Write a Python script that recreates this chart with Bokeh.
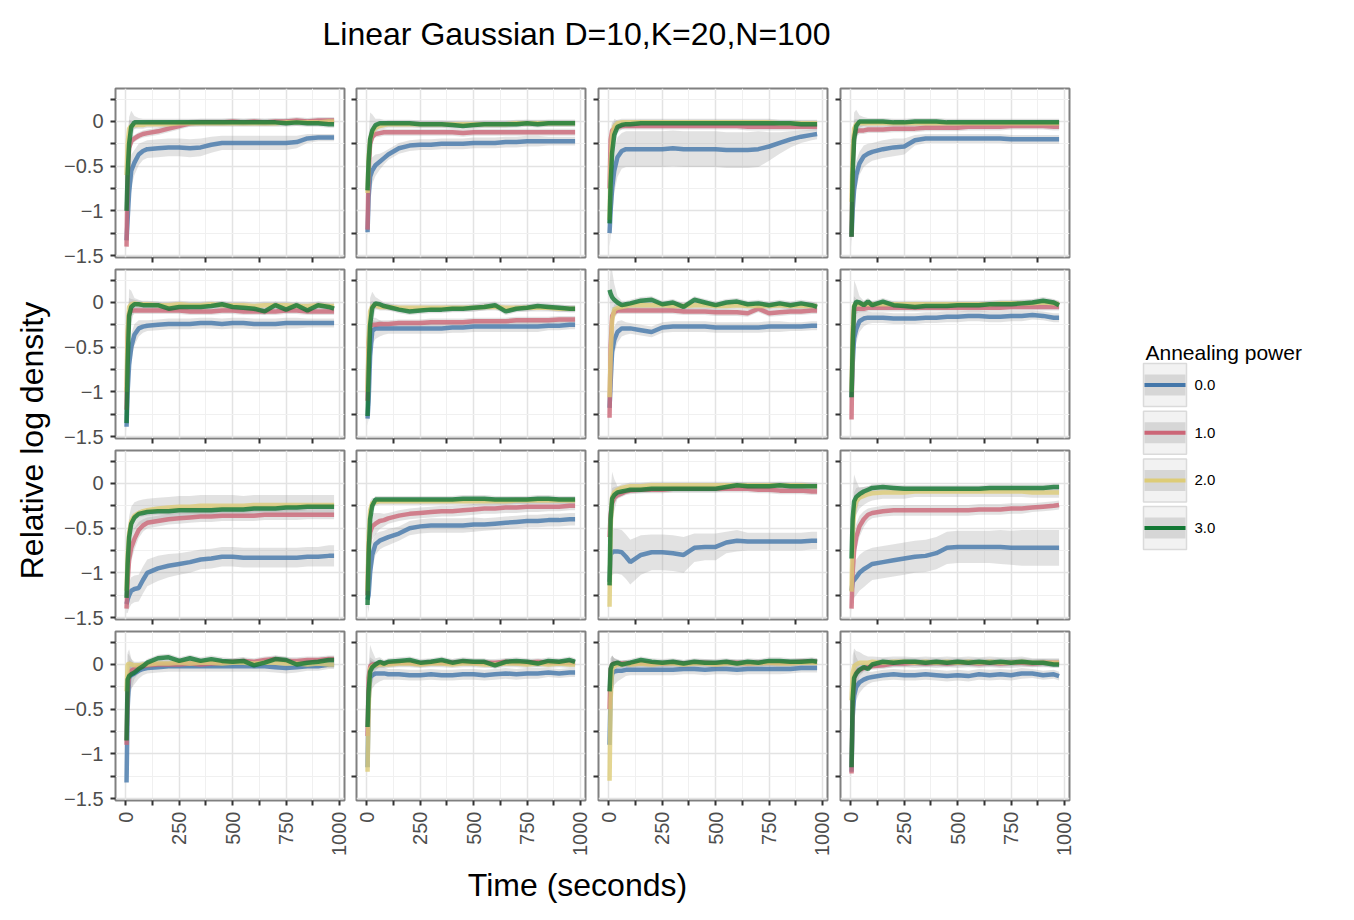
import math
import numpy as np
from bokeh.plotting import figure
from bokeh.models import Range1d, FixedTicker, CustomJSTickFormatter
from bokeh.layouts import row, column
from bokeh.embed import file_html
from bokeh.resources import INLINE
from bokeh.core.properties import value

FONT = "Liberation Sans"
TITLE = "Linear Gaussian D=10,K=20,N=100"
X_LABEL = "Time (seconds)"
Y_LABEL = "Relative log density"
LEGEND_TITLE = "Annealing power"
POWERS = ["0.0", "1.0", "2.0", "3.0"]
COLORS = ["#4477AA", "#CC6677", "#DDCC77", "#117733"]

X_TICKS = [0, 250, 500, 750, 1000]
X_MINOR = [125, 375, 625, 875]
Y_TICKS = [0, -0.5, -1, -1.5]
Y_MINOR = [0.25, -0.25, -0.75, -1.25]
X_RANGE = (-48.75, 1023.75)
Y_RANGE = (-1.522, 0.369)

# time samples (seconds)
T = [3, 8, 15, 25, 40, 60, 80, 100, 150, 200, 250, 300, 350, 400, 450, 500,
     550, 600, 650, 700, 750, 800, 850, 900, 950, 975]

# ---- mean relative log density, per panel (row, col) and annealing power ----
B11 = [-1.33, -1.10, -0.80, -0.55, -0.46, -0.37, -0.33, -0.31, -0.30, -0.29, -0.29, -0.30, -0.29, -0.26, -0.24, -0.24, -0.24, -0.24, -0.24, -0.24, -0.24, -0.23, -0.19, -0.18, -0.18, -0.18]
R11 = [-1.40, -0.60, -0.30, -0.22, -0.19, -0.16, -0.14, -0.13, -0.11, -0.08, -0.05, -0.02, -0.01, -0.01, -0.01, 0.00, -0.01, 0.00, -0.01, 0.00, 0.00, 0.01, 0.00, 0.01, 0.01, 0.01]
Y11 = [-0.60, -0.25, -0.08, -0.05, -0.04, -0.04, -0.04, -0.03, -0.03, -0.03, -0.02, -0.02, -0.02, -0.02, -0.02, -0.02, -0.02, -0.02, -0.02, -0.02, -0.01, -0.01, -0.01, -0.01, 0.00, 0.00]
G11 = [-1.00, -0.60, -0.25, -0.06, -0.01, -0.01, -0.01, -0.01, -0.01, -0.01, -0.01, -0.01, -0.01, -0.01, -0.01, -0.01, -0.01, -0.01, -0.01, -0.01, -0.02, -0.01, -0.02, -0.02, -0.03, -0.03]

B12 = [-1.24, -0.85, -0.62, -0.55, -0.49, -0.45, -0.41, -0.37, -0.30, -0.27, -0.26, -0.26, -0.25, -0.25, -0.25, -0.24, -0.24, -0.24, -0.23, -0.23, -0.22, -0.22, -0.22, -0.22, -0.22, -0.22]
R12 = [-1.21, -0.55, -0.25, -0.17, -0.14, -0.13, -0.12, -0.12, -0.12, -0.12, -0.12, -0.12, -0.12, -0.12, -0.13, -0.12, -0.12, -0.12, -0.12, -0.12, -0.12, -0.12, -0.12, -0.12, -0.12, -0.12]
Y12 = [-0.80, -0.40, -0.20, -0.12, -0.07, -0.05, -0.04, -0.03, -0.03, -0.03, -0.03, -0.03, -0.03, -0.03, -0.03, -0.03, -0.03, -0.03, -0.03, -0.02, -0.02, -0.02, -0.02, -0.02, -0.02, -0.02]
G12 = [-0.77, -0.45, -0.20, -0.10, -0.04, -0.02, -0.02, -0.02, -0.02, -0.02, -0.03, -0.03, -0.03, -0.04, -0.05, -0.04, -0.03, -0.03, -0.03, -0.03, -0.02, -0.03, -0.02, -0.02, -0.02, -0.02]

B13 = [-1.25, -1.00, -0.75, -0.55, -0.40, -0.33, -0.31, -0.31, -0.31, -0.31, -0.31, -0.30, -0.31, -0.31, -0.31, -0.31, -0.32, -0.32, -0.32, -0.31, -0.28, -0.24, -0.20, -0.17, -0.15, -0.14]
R13 = [-0.75, -0.20, -0.10, -0.08, -0.06, -0.05, -0.05, -0.05, -0.05, -0.05, -0.05, -0.05, -0.05, -0.05, -0.05, -0.05, -0.05, -0.05, -0.06, -0.06, -0.06, -0.06, -0.06, -0.06, -0.06, -0.06]
Y13 = [-1.10, -0.50, -0.15, -0.06, -0.02, -0.01, -0.01, -0.01, -0.01, -0.01, -0.01, -0.01, -0.01, -0.01, -0.01, -0.01, -0.01, -0.01, -0.01, -0.01, -0.01, -0.02, -0.02, -0.02, -0.02, -0.02]
G13 = [-1.14, -0.70, -0.35, -0.15, -0.06, -0.04, -0.03, -0.03, -0.02, -0.02, -0.02, -0.02, -0.02, -0.02, -0.02, -0.02, -0.02, -0.02, -0.02, -0.02, -0.02, -0.02, -0.02, -0.03, -0.03, -0.03]

B14 = [-1.29, -1.00, -0.76, -0.60, -0.47, -0.39, -0.36, -0.34, -0.31, -0.29, -0.28, -0.21, -0.19, -0.19, -0.19, -0.19, -0.19, -0.19, -0.19, -0.19, -0.20, -0.20, -0.20, -0.20, -0.20, -0.20]
R14 = [-1.29, -0.50, -0.15, -0.11, -0.10, -0.10, -0.09, -0.09, -0.09, -0.08, -0.08, -0.08, -0.07, -0.07, -0.07, -0.07, -0.06, -0.06, -0.06, -0.06, -0.05, -0.05, -0.05, -0.05, -0.06, -0.06]
Y14 = [-0.90, -0.35, -0.08, -0.03, -0.02, -0.02, -0.02, -0.02, -0.02, -0.02, -0.02, -0.02, -0.02, -0.02, -0.02, -0.02, -0.02, -0.02, -0.02, -0.02, -0.02, -0.02, -0.02, -0.02, -0.02, -0.02]
G14 = [-1.29, -0.60, -0.20, -0.05, 0.00, 0.00, 0.00, 0.00, 0.00, -0.01, -0.01, 0.00, 0.00, 0.00, -0.01, -0.01, -0.01, -0.01, -0.01, -0.01, -0.01, -0.01, -0.01, -0.01, -0.01, -0.01]

B21 = [-1.39, -1.00, -0.70, -0.50, -0.36, -0.29, -0.27, -0.26, -0.25, -0.24, -0.24, -0.24, -0.23, -0.23, -0.24, -0.23, -0.23, -0.24, -0.24, -0.24, -0.23, -0.23, -0.23, -0.23, -0.23, -0.23]
R21 = [-1.20, -0.40, -0.12, -0.09, -0.09, -0.09, -0.09, -0.09, -0.09, -0.09, -0.09, -0.10, -0.10, -0.10, -0.09, -0.09, -0.10, -0.10, -0.10, -0.10, -0.09, -0.09, -0.10, -0.10, -0.10, -0.10]
Y21 = [-1.00, -0.30, -0.05, -0.02, -0.01, -0.02, -0.02, -0.02, -0.03, -0.03, -0.02, -0.03, -0.03, -0.02, -0.03, -0.03, -0.03, -0.04, -0.03, -0.03, -0.03, -0.04, -0.04, -0.03, -0.04, -0.04]
G21 = [-1.35, -0.70, -0.15, -0.05, -0.02, -0.02, -0.03, -0.03, -0.03, -0.07, -0.05, -0.05, -0.05, -0.04, -0.02, -0.05, -0.06, -0.07, -0.10, -0.03, -0.08, -0.03, -0.09, -0.03, -0.05, -0.07]

B22 = [-1.30, -1.10, -0.60, -0.32, -0.29, -0.29, -0.29, -0.29, -0.29, -0.29, -0.29, -0.29, -0.29, -0.28, -0.28, -0.27, -0.27, -0.27, -0.27, -0.27, -0.27, -0.27, -0.26, -0.26, -0.25, -0.25]
R22 = [-1.10, -0.45, -0.27, -0.25, -0.25, -0.24, -0.24, -0.24, -0.23, -0.23, -0.23, -0.22, -0.22, -0.22, -0.22, -0.21, -0.21, -0.21, -0.21, -0.20, -0.20, -0.20, -0.20, -0.19, -0.19, -0.19]
Y22 = [-1.00, -0.40, -0.10, -0.04, -0.03, -0.05, -0.05, -0.05, -0.06, -0.06, -0.06, -0.06, -0.06, -0.06, -0.06, -0.06, -0.05, -0.05, -0.06, -0.06, -0.06, -0.06, -0.06, -0.07, -0.07, -0.07]
G22 = [-1.27, -0.80, -0.25, -0.06, -0.01, -0.02, -0.04, -0.05, -0.08, -0.10, -0.09, -0.08, -0.08, -0.07, -0.07, -0.06, -0.05, -0.03, -0.10, -0.07, -0.06, -0.04, -0.05, -0.06, -0.07, -0.07]

B23 = [-1.18, -0.90, -0.55, -0.42, -0.33, -0.29, -0.29, -0.29, -0.31, -0.33, -0.28, -0.27, -0.27, -0.27, -0.27, -0.28, -0.28, -0.28, -0.28, -0.28, -0.27, -0.27, -0.27, -0.27, -0.26, -0.26]
R23 = [-1.29, -0.50, -0.15, -0.11, -0.09, -0.09, -0.09, -0.09, -0.09, -0.09, -0.09, -0.09, -0.10, -0.10, -0.10, -0.11, -0.11, -0.11, -0.12, -0.07, -0.12, -0.11, -0.10, -0.10, -0.09, -0.09]
Y23 = [-1.06, -0.60, -0.20, -0.08, -0.06, -0.05, -0.04, -0.03, -0.03, -0.03, -0.03, -0.04, -0.04, -0.03, -0.03, -0.04, -0.04, -0.03, -0.04, -0.04, -0.04, -0.03, -0.04, -0.04, -0.04, -0.04]
G23 = [0.14, 0.10, 0.06, 0.03, 0.00, -0.03, -0.02, -0.01, 0.02, 0.03, -0.02, 0.00, -0.05, 0.03, 0.00, -0.03, 0.00, 0.01, -0.02, -0.01, -0.03, -0.01, -0.03, -0.01, -0.03, -0.05]

B24 = [-1.06, -0.70, -0.40, -0.30, -0.21, -0.18, -0.17, -0.17, -0.17, -0.18, -0.18, -0.18, -0.17, -0.17, -0.16, -0.16, -0.15, -0.15, -0.16, -0.16, -0.15, -0.15, -0.14, -0.15, -0.17, -0.17]
R24 = [-1.31, -0.40, -0.08, -0.07, -0.07, -0.07, -0.06, -0.06, -0.06, -0.06, -0.06, -0.06, -0.06, -0.06, -0.06, -0.06, -0.06, -0.06, -0.06, -0.06, -0.05, -0.05, -0.05, -0.05, -0.05, -0.05]
Y24 = [-1.00, -0.30, -0.03, -0.02, -0.02, -0.02, -0.02, -0.02, -0.02, -0.02, -0.02, -0.02, -0.02, -0.02, -0.02, -0.02, -0.02, -0.02, -0.02, -0.01, -0.01, -0.01, -0.01, 0.00, -0.01, -0.02]
G24 = [-1.06, -0.50, -0.05, 0.01, 0.00, -0.03, 0.01, -0.03, 0.01, -0.03, -0.04, -0.05, -0.04, -0.04, -0.04, -0.03, -0.03, -0.03, -0.02, -0.02, -0.02, -0.01, 0.00, 0.02, 0.00, -0.03]

B31 = [-1.35, -1.30, -1.25, -1.20, -1.18, -1.17, -1.08, -1.00, -0.95, -0.92, -0.90, -0.88, -0.85, -0.84, -0.82, -0.82, -0.83, -0.83, -0.83, -0.83, -0.83, -0.83, -0.82, -0.82, -0.81, -0.81]
R31 = [-1.40, -1.10, -0.85, -0.72, -0.62, -0.52, -0.47, -0.44, -0.42, -0.40, -0.39, -0.38, -0.37, -0.37, -0.36, -0.36, -0.36, -0.36, -0.35, -0.35, -0.35, -0.35, -0.35, -0.35, -0.35, -0.35]
Y31 = [-1.20, -0.80, -0.55, -0.42, -0.36, -0.33, -0.31, -0.30, -0.28, -0.27, -0.26, -0.26, -0.25, -0.25, -0.25, -0.25, -0.25, -0.24, -0.24, -0.24, -0.24, -0.24, -0.24, -0.24, -0.24, -0.24]
G31 = [-1.28, -0.90, -0.60, -0.45, -0.38, -0.34, -0.33, -0.32, -0.31, -0.31, -0.30, -0.30, -0.30, -0.30, -0.29, -0.29, -0.29, -0.28, -0.28, -0.28, -0.27, -0.27, -0.26, -0.26, -0.26, -0.26]

B32 = [-1.30, -1.25, -1.00, -0.80, -0.68, -0.64, -0.62, -0.60, -0.56, -0.50, -0.48, -0.47, -0.47, -0.47, -0.47, -0.46, -0.46, -0.45, -0.44, -0.43, -0.42, -0.42, -0.41, -0.41, -0.40, -0.40]
R32 = [-1.25, -0.70, -0.55, -0.48, -0.45, -0.42, -0.41, -0.39, -0.36, -0.34, -0.33, -0.32, -0.31, -0.31, -0.30, -0.29, -0.28, -0.28, -0.27, -0.27, -0.26, -0.26, -0.26, -0.26, -0.25, -0.25]
Y32 = [-1.20, -0.60, -0.30, -0.22, -0.21, -0.20, -0.20, -0.20, -0.20, -0.20, -0.20, -0.20, -0.20, -0.20, -0.20, -0.20, -0.20, -0.20, -0.20, -0.19, -0.19, -0.19, -0.19, -0.19, -0.19, -0.19]
G32 = [-1.36, -0.80, -0.40, -0.25, -0.18, -0.18, -0.18, -0.18, -0.18, -0.18, -0.18, -0.18, -0.18, -0.18, -0.17, -0.17, -0.17, -0.18, -0.18, -0.18, -0.18, -0.17, -0.17, -0.18, -0.18, -0.18]

B33 = [-1.10, -0.80, -0.77, -0.76, -0.76, -0.77, -0.82, -0.88, -0.80, -0.77, -0.77, -0.78, -0.80, -0.72, -0.71, -0.71, -0.66, -0.64, -0.65, -0.65, -0.65, -0.65, -0.65, -0.65, -0.64, -0.64]
R33 = [-0.60, -0.35, -0.22, -0.16, -0.13, -0.11, -0.09, -0.08, -0.07, -0.07, -0.07, -0.06, -0.06, -0.06, -0.06, -0.06, -0.06, -0.06, -0.06, -0.07, -0.07, -0.08, -0.08, -0.08, -0.09, -0.09]
Y33 = [-1.38, -0.50, -0.15, -0.10, -0.07, -0.05, -0.04, -0.03, -0.03, -0.02, -0.02, -0.02, -0.02, -0.02, -0.02, -0.02, -0.02, -0.02, -0.02, -0.02, -0.02, -0.02, -0.02, -0.02, -0.03, -0.03]
G33 = [-1.14, -0.40, -0.17, -0.13, -0.10, -0.09, -0.08, -0.07, -0.07, -0.06, -0.06, -0.06, -0.06, -0.06, -0.06, -0.06, -0.04, -0.02, -0.03, -0.03, -0.03, -0.02, -0.03, -0.03, -0.03, -0.03]

B34 = [-1.20, -1.10, -1.08, -1.05, -1.00, -0.96, -0.93, -0.90, -0.88, -0.86, -0.84, -0.82, -0.81, -0.78, -0.72, -0.71, -0.71, -0.71, -0.71, -0.71, -0.72, -0.72, -0.72, -0.72, -0.72, -0.72]
R34 = [-1.40, -1.00, -0.75, -0.60, -0.48, -0.40, -0.35, -0.33, -0.31, -0.30, -0.30, -0.30, -0.30, -0.30, -0.30, -0.30, -0.30, -0.29, -0.29, -0.29, -0.28, -0.28, -0.27, -0.26, -0.25, -0.24]
Y34 = [-1.21, -0.60, -0.30, -0.20, -0.16, -0.14, -0.12, -0.11, -0.10, -0.10, -0.10, -0.09, -0.09, -0.09, -0.09, -0.09, -0.09, -0.09, -0.09, -0.09, -0.09, -0.09, -0.10, -0.10, -0.10, -0.10]
G34 = [-0.84, -0.40, -0.20, -0.15, -0.12, -0.09, -0.07, -0.05, -0.04, -0.05, -0.06, -0.06, -0.06, -0.06, -0.06, -0.06, -0.06, -0.06, -0.05, -0.05, -0.05, -0.05, -0.05, -0.05, -0.04, -0.04]

B41 = [-1.32, -0.50, -0.15, -0.12, -0.10, -0.07, -0.05, -0.04, -0.03, -0.02, -0.02, -0.02, -0.02, -0.02, -0.02, -0.02, -0.02, -0.02, -0.02, -0.03, -0.04, -0.03, -0.02, -0.02, 0.00, 0.00]
R41 = [-0.90, -0.30, -0.12, -0.07, -0.05, -0.03, -0.02, -0.01, 0.00, 0.00, 0.00, 0.01, 0.00, 0.01, 0.02, 0.03, 0.04, 0.03, 0.05, 0.06, 0.04, 0.04, 0.05, 0.05, 0.06, 0.06]
Y41 = [-0.30, 0.00, 0.01, 0.00, -0.01, -0.01, 0.00, 0.00, 0.01, 0.01, 0.02, 0.01, 0.02, 0.02, 0.01, 0.02, 0.02, 0.01, 0.02, 0.02, 0.01, 0.01, 0.00, 0.01, 0.00, 0.00]
G41 = [-0.85, -0.17, -0.13, -0.11, -0.09, -0.05, -0.02, 0.02, 0.07, 0.08, 0.04, 0.07, 0.04, 0.06, 0.04, 0.03, 0.04, -0.01, 0.02, 0.06, 0.05, 0.00, 0.02, 0.03, 0.05, 0.05]

B42 = [-1.15, -0.40, -0.15, -0.12, -0.10, -0.10, -0.10, -0.11, -0.11, -0.12, -0.12, -0.11, -0.12, -0.12, -0.11, -0.11, -0.12, -0.11, -0.10, -0.11, -0.10, -0.10, -0.09, -0.10, -0.09, -0.09]
R42 = [-0.80, -0.15, -0.02, 0.00, 0.00, 0.01, 0.01, 0.01, 0.02, 0.02, 0.01, 0.02, 0.02, 0.02, 0.03, 0.02, 0.02, 0.02, 0.03, 0.02, 0.02, 0.03, 0.02, 0.02, 0.02, 0.02]
Y42 = [-1.20, -0.50, -0.05, -0.02, -0.01, 0.00, 0.00, 0.00, 0.01, 0.01, 0.00, 0.01, 0.01, 0.00, 0.01, 0.01, 0.00, 0.00, 0.01, 0.01, 0.00, 0.01, 0.00, 0.01, 0.00, 0.00]
G42 = [-0.70, -0.30, -0.08, -0.03, 0.00, 0.03, 0.01, 0.03, 0.04, 0.05, 0.02, 0.03, 0.05, 0.02, 0.04, 0.03, 0.03, -0.01, 0.03, 0.04, 0.03, 0.01, 0.04, 0.03, 0.05, 0.03]

B43 = [-0.90, -0.30, -0.10, -0.08, -0.07, -0.07, -0.06, -0.06, -0.06, -0.06, -0.06, -0.06, -0.05, -0.05, -0.06, -0.05, -0.05, -0.06, -0.05, -0.05, -0.05, -0.05, -0.05, -0.04, -0.04, -0.04]
R43 = [-0.50, -0.05, 0.00, 0.01, 0.01, 0.01, 0.01, 0.01, 0.02, 0.01, 0.01, 0.02, 0.01, 0.02, 0.02, 0.01, 0.02, 0.02, 0.01, 0.02, 0.02, 0.02, 0.02, 0.03, 0.03, 0.03]
Y43 = [-1.30, -0.40, -0.05, -0.02, 0.00, 0.00, 0.01, 0.00, 0.01, 0.00, 0.01, 0.01, 0.00, 0.01, 0.01, 0.00, 0.01, 0.01, 0.01, 0.01, 0.02, 0.01, 0.01, 0.02, 0.02, 0.02]
G43 = [-0.30, -0.05, 0.00, 0.01, 0.02, 0.00, 0.01, 0.02, 0.05, 0.03, 0.02, 0.03, 0.01, 0.03, 0.02, 0.02, 0.03, 0.01, 0.03, 0.02, 0.04, 0.04, 0.03, 0.03, 0.04, 0.03]

B44 = [-1.20, -0.60, -0.35, -0.25, -0.20, -0.17, -0.15, -0.14, -0.12, -0.11, -0.12, -0.12, -0.11, -0.12, -0.13, -0.12, -0.13, -0.11, -0.12, -0.11, -0.12, -0.10, -0.10, -0.12, -0.11, -0.13]
R44 = [-1.22, -0.40, -0.15, -0.09, -0.06, -0.04, -0.03, -0.02, -0.01, 0.01, 0.01, 0.02, 0.01, 0.02, 0.01, 0.02, 0.02, 0.01, 0.02, 0.01, 0.02, 0.02, 0.01, 0.02, 0.02, 0.02]
Y44 = [-0.40, -0.10, -0.02, 0.00, 0.02, 0.02, 0.02, 0.03, 0.02, 0.03, 0.03, 0.02, 0.03, 0.02, 0.03, 0.02, 0.03, 0.02, 0.03, 0.02, 0.02, 0.03, 0.02, 0.02, 0.02, 0.02]
G44 = [-1.15, -0.40, -0.15, -0.10, -0.06, -0.03, -0.05, 0.00, 0.03, 0.02, 0.03, 0.03, 0.02, 0.03, 0.02, 0.03, 0.02, 0.03, 0.02, 0.03, 0.02, 0.03, 0.02, 0.02, 0.00, 0.00]

# ---- ribbon half-widths ----
S_FAST = [0.04, 0.12, 0.10, 0.06, 0.04, 0.04, 0.04, 0.04, 0.04, 0.04, 0.04, 0.04, 0.04, 0.04, 0.04, 0.04, 0.04, 0.04, 0.04, 0.04, 0.04, 0.04, 0.04, 0.04, 0.04, 0.04]
S_SPIKE = [0.05, 0.30, 0.30, 0.18, 0.07, 0.05, 0.04, 0.04, 0.04, 0.04, 0.04, 0.04, 0.04, 0.04, 0.04, 0.04, 0.04, 0.04, 0.04, 0.04, 0.04, 0.04, 0.04, 0.04, 0.04, 0.04]
S_MED = [0.08, 0.20, 0.20, 0.15, 0.12, 0.09, 0.07, 0.06, 0.06, 0.06, 0.06, 0.06, 0.06, 0.06, 0.06, 0.06, 0.06, 0.06, 0.06, 0.06, 0.06, 0.06, 0.05, 0.05, 0.05, 0.05]
E_B11 = [0.10, 0.20, 0.22, 0.18, 0.14, 0.12, 0.10, 0.10, 0.10, 0.10, 0.10, 0.10, 0.10, 0.09, 0.08, 0.08, 0.08, 0.08, 0.08, 0.08, 0.08, 0.07, 0.05, 0.04, 0.04, 0.04]
E_B13 = [0.15, 0.30, 0.30, 0.25, 0.22, 0.20, 0.20, 0.20, 0.20, 0.20, 0.20, 0.20, 0.20, 0.20, 0.20, 0.20, 0.20, 0.20, 0.20, 0.20, 0.16, 0.12, 0.09, 0.07, 0.06, 0.06]
E_B14 = [0.12, 0.20, 0.20, 0.16, 0.13, 0.12, 0.11, 0.10, 0.10, 0.10, 0.09, 0.06, 0.05, 0.05, 0.05, 0.05, 0.05, 0.05, 0.05, 0.05, 0.05, 0.05, 0.05, 0.05, 0.05, 0.05]
E_B31 = [0.10, 0.15, 0.15, 0.15, 0.15, 0.15, 0.15, 0.15, 0.14, 0.13, 0.12, 0.12, 0.11, 0.11, 0.11, 0.11, 0.11, 0.11, 0.11, 0.11, 0.11, 0.11, 0.11, 0.11, 0.12, 0.12]
E_Y31 = [0.08, 0.20, 0.18, 0.16, 0.15, 0.14, 0.13, 0.13, 0.12, 0.12, 0.12, 0.12, 0.12, 0.12, 0.12, 0.12, 0.11, 0.11, 0.11, 0.11, 0.11, 0.11, 0.11, 0.11, 0.11, 0.11]
E_B32 = [0.08, 0.20, 0.20, 0.15, 0.12, 0.10, 0.09, 0.09, 0.08, 0.08, 0.08, 0.08, 0.08, 0.08, 0.08, 0.08, 0.07, 0.07, 0.07, 0.07, 0.07, 0.07, 0.07, 0.07, 0.07, 0.07]
E_B33 = [0.20, 0.25, 0.25, 0.25, 0.25, 0.25, 0.25, 0.25, 0.22, 0.20, 0.20, 0.20, 0.20, 0.16, 0.15, 0.15, 0.12, 0.12, 0.10, 0.10, 0.10, 0.10, 0.10, 0.10, 0.10, 0.10]
E_B34 = [0.20, 0.20, 0.20, 0.20, 0.20, 0.20, 0.19, 0.18, 0.18, 0.18, 0.18, 0.18, 0.18, 0.18, 0.18, 0.18, 0.18, 0.18, 0.18, 0.19, 0.19, 0.20, 0.20, 0.20, 0.20, 0.20]
E_Y34 = [0.10, 0.25, 0.20, 0.15, 0.12, 0.10, 0.09, 0.08, 0.07, 0.07, 0.07, 0.06, 0.06, 0.06, 0.06, 0.06, 0.06, 0.06, 0.06, 0.06, 0.06, 0.06, 0.06, 0.06, 0.06, 0.06]

MEANS = [
    [[B11, R11, Y11, G11], [B12, R12, Y12, G12], [B13, R13, Y13, G13], [B14, R14, Y14, G14]],
    [[B21, R21, Y21, G21], [B22, R22, Y22, G22], [B23, R23, Y23, G23], [B24, R24, Y24, G24]],
    [[B31, R31, Y31, G31], [B32, R32, Y32, G32], [B33, R33, Y33, G33], [B34, R34, Y34, G34]],
    [[B41, R41, Y41, G41], [B42, R42, Y42, G42], [B43, R43, Y43, G43], [B44, R44, Y44, G44]],
]
SPREADS = [
    [[E_B11, S_FAST, S_FAST, S_SPIKE], [S_MED, S_FAST, S_FAST, S_SPIKE], [E_B13, S_FAST, S_FAST, S_SPIKE], [E_B14, S_FAST, S_FAST, S_SPIKE]],
    [[S_MED, S_FAST, S_FAST, S_SPIKE], [S_MED, S_FAST, S_FAST, S_SPIKE], [S_MED, S_FAST, S_FAST, S_SPIKE], [S_MED, S_FAST, S_FAST, S_SPIKE]],
    [[E_B31, S_MED, E_Y31, S_FAST], [E_B32, S_MED, S_FAST, S_FAST], [E_B33, S_FAST, S_FAST, S_SPIKE], [E_B34, S_MED, E_Y34, S_SPIKE]],
    [[S_MED, S_FAST, S_FAST, S_SPIKE], [S_MED, S_FAST, S_FAST, S_SPIKE], [S_MED, S_FAST, S_FAST, S_FAST], [S_MED, S_FAST, S_MED, S_SPIKE]],
]

# ---- layout sizes (pixels) ----
FRAME_W, FRAME_H = 229, 169
LEFT_B = [60, 6, 7, 7]
RIGHT_B = 6
YLAB_W = 55
LEG_W = 257
TITLE_H = 80
XLAB_H = 52
TOP_B = [8, 2, 2, 2]
BOT_B = [10, 10, 10, 58]
GRID_H = sum(TOP_B) + sum(BOT_B) + 4 * FRAME_H
GRID_W = sum(LEFT_B) + 4 * (FRAME_W + RIGHT_B)
TOTAL_W = YLAB_W + GRID_W + LEG_W

TICK_COLOR = "#333333"
LABEL_COLOR = "#4d4d4d"

yfmt = CustomJSTickFormatter(code="return tick < 0 ? '\\u2212' + (-tick) : String(tick);")


def style_axis(ax):
    ax.axis_line_color = None
    ax.major_tick_line_color = TICK_COLOR
    ax.minor_tick_line_color = TICK_COLOR
    ax.major_tick_line_width = 2
    ax.minor_tick_line_width = 2
    ax.major_tick_in = 0
    ax.minor_tick_in = 0
    ax.major_tick_out = 5
    ax.minor_tick_out = 5
    ax.major_label_text_font = FONT
    ax.major_label_text_font_size = "20px"
    ax.major_label_text_color = LABEL_COLOR


def make_panel(r, c):
    p = figure(frame_width=FRAME_W, frame_height=FRAME_H,
               x_range=Range1d(*X_RANGE), y_range=Range1d(*Y_RANGE),
               output_backend="svg", toolbar_location=None,
               min_border_left=LEFT_B[c], min_border_right=RIGHT_B,
               min_border_top=TOP_B[r], min_border_bottom=BOT_B[r],
               background_fill_color="white", border_fill_color="white")
    p.outline_line_color = "#808080"
    p.outline_line_width = 2

    xa = p.xaxis[0]
    ya = p.yaxis[0]
    style_axis(xa)
    style_axis(ya)
    if r == 3:
        xa.ticker = FixedTicker(ticks=X_TICKS, minor_ticks=X_MINOR)
        xa.major_label_orientation = math.pi / 2
        xa.major_label_standoff = 6
    else:
        xa.ticker = FixedTicker(ticks=[], minor_ticks=X_MINOR)
        xa.major_label_standoff = 0
    if c == 0:
        ya.ticker = FixedTicker(ticks=Y_TICKS, minor_ticks=Y_MINOR)
        ya.formatter = yfmt
        ya.major_label_standoff = 7
    else:
        ya.ticker = FixedTicker(ticks=[], minor_ticks=Y_MINOR)
        ya.major_label_standoff = 0

    p.xgrid.ticker = FixedTicker(ticks=X_TICKS, minor_ticks=X_MINOR)
    p.ygrid.ticker = FixedTicker(ticks=Y_TICKS, minor_ticks=Y_MINOR)
    for g in (p.xgrid, p.ygrid):
        g.grid_line_color = "#e3e3e3"
        g.grid_line_width = 1.5
        g.minor_grid_line_color = "#f0f0f0"
        g.minor_grid_line_width = 1

    means = MEANS[r][c]
    spreads = SPREADS[r][c]
    for k in range(4):
        m = np.array(means[k])
        s = np.array(spreads[k])
        p.varea(x=T, y1=m - s, y2=m + s, fill_color="#a0a0a0", fill_alpha=0.3)
    for k in range(4):
        p.line(T, means[k], line_color=COLORS[k], line_width=4.5, line_alpha=0.8)
    return p


def blank(w, h, inverted=False):
    yr = Range1d(h, 0) if inverted else Range1d(0, h)
    f = figure(frame_width=w, frame_height=h, x_range=Range1d(0, w), y_range=yr,
               x_axis_type=None, y_axis_type=None, output_backend="svg",
               toolbar_location=None, min_border=0,
               background_fill_color="white", border_fill_color="white")
    f.outline_line_color = None
    f.grid.visible = False
    return f


# title
title_fig = blank(TOTAL_W, TITLE_H)
title_fig.text(x=[576], y=[TITLE_H - 33], text=[TITLE], text_font=value(FONT),
               text_font_size="32px", text_color="black",
               text_align="center", text_baseline="middle")

# y label
ylab_fig = blank(YLAB_W, GRID_H)
ylab_fig.text(x=[31], y=[GRID_H - 360], text=[Y_LABEL], angle=np.pi / 2,
              text_font=value(FONT), text_font_size="32px", text_color="black",
              text_align="center", text_baseline="middle")

# x label
xlab_fig = blank(TOTAL_W, XLAB_H)
xlab_fig.text(x=[577], y=[XLAB_H - 26], text=[X_LABEL], text_font=value(FONT),
              text_font_size="32px", text_color="black",
              text_align="center", text_baseline="middle")

# legend
leg = blank(LEG_W, GRID_H, inverted=True)
KEY_X, KEY_W, KEY_H, KEY_TOP, KEY_PITCH = 68, 43, 43, 283, 47.7
tops = [KEY_TOP + i * KEY_PITCH for i in range(len(POWERS))]
centers = [t + KEY_H / 2 for t in tops]
leg.quad(left=[KEY_X] * 4, right=[KEY_X + KEY_W] * 4, top=tops,
         bottom=[t + KEY_H for t in tops], fill_color="#f2f2f2",
         line_color="#dadada", line_width=1.5)
leg.quad(left=[KEY_X + 1] * 4, right=[KEY_X + KEY_W - 1] * 4,
         top=[t + 11 for t in tops], bottom=[t + 32 for t in tops],
         fill_color="#d6d6d6", line_color=None)
leg.segment(x0=[KEY_X + 1] * 4, x1=[KEY_X + KEY_W - 1] * 4, y0=centers, y1=centers,
            line_color=COLORS, line_width=4)
leg.text(x=[KEY_X + KEY_W + 8] * 4, y=centers, text=POWERS, text_font=value(FONT),
         text_font_size="15px", text_color="black", text_baseline="middle")
leg.text(x=[KEY_X + 2], y=[271.5], text=[LEGEND_TITLE], text_font=value(FONT),
         text_font_size="21px", text_color="black", text_baseline="alphabetic")

panels = [[make_panel(r, c) for c in range(4)] for r in range(4)]
grid = column(*[row(*panels[r]) for r in range(4)])
layout = column(title_fig, row(ylab_fig, grid, leg), xlab_fig)

with open("out.html", "w", encoding="utf-8") as fh:
    fh.write(file_html(layout, INLINE))
